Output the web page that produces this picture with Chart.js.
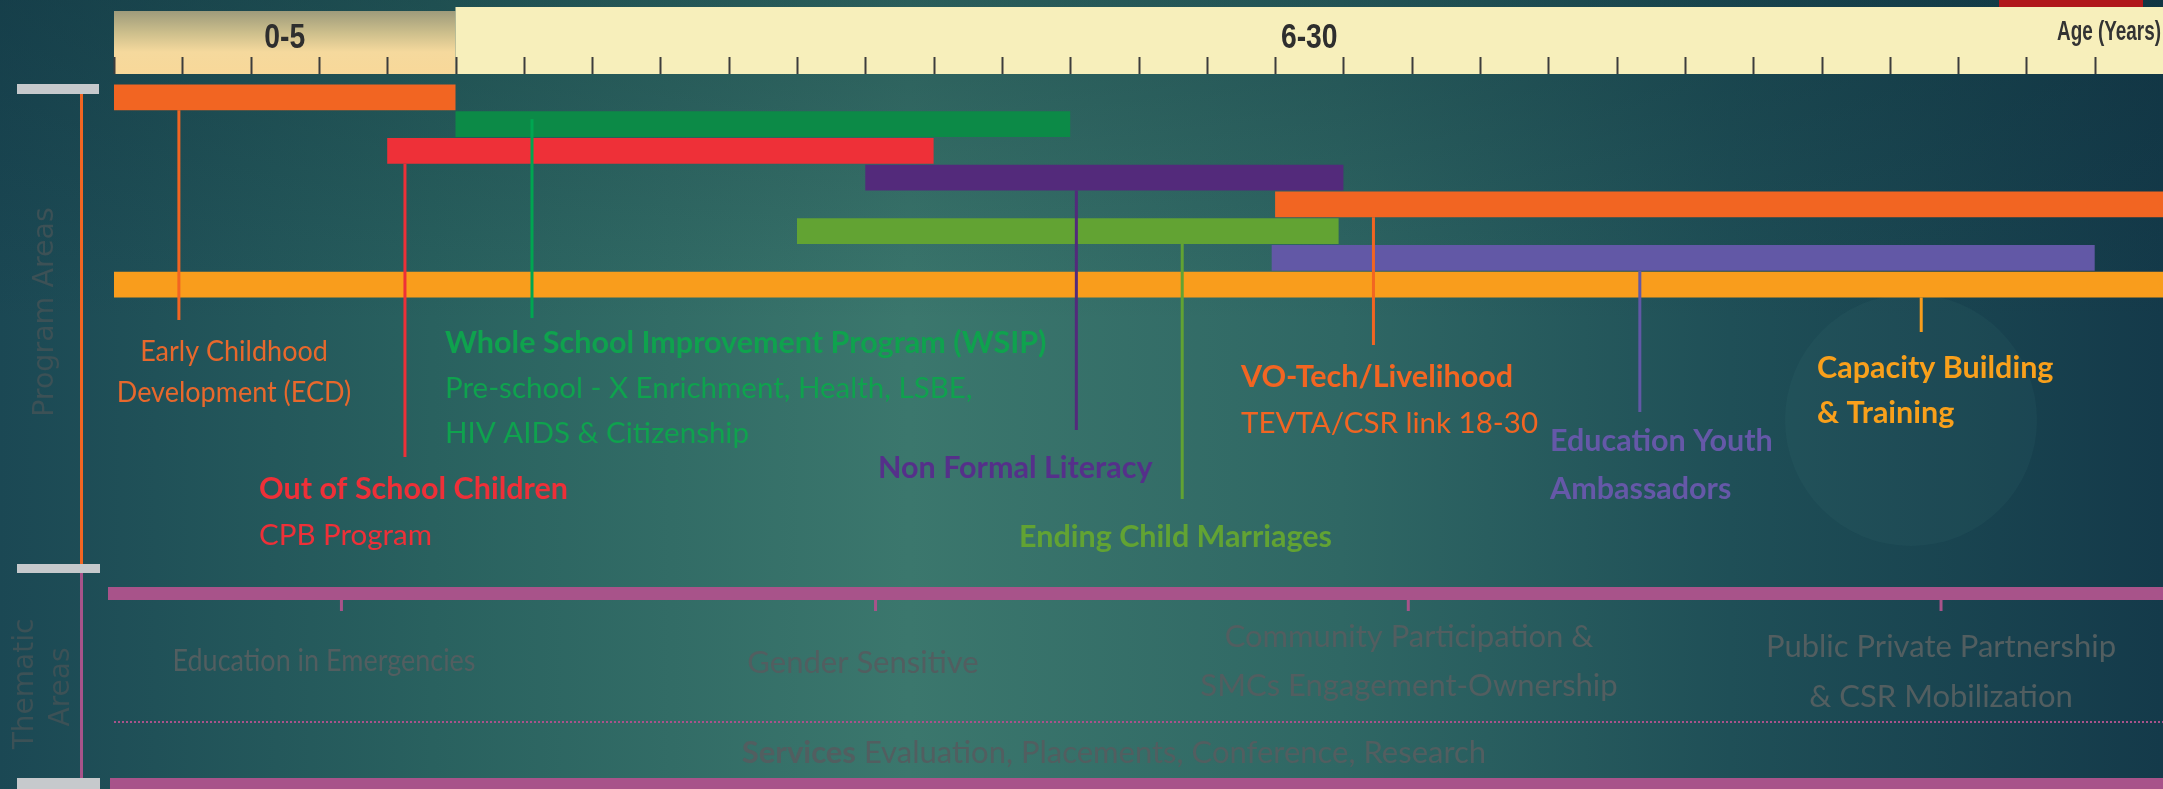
<!DOCTYPE html>
<html lang="en">
<head>
<meta charset="UTF-8">
<title>Program Areas by Age</title>
<script src="https://cdn.jsdelivr.net/npm/chart.js"></script>
<style>
  html, body { margin: 0; padding: 0; background: #1d4c57; }
  #wrap { width: 2163px; height: 789px; position: relative; }
</style>
</head>
<body>
<div id="wrap"><canvas id="ageChart"></canvas></div>
<script>
// program areas, one floating bar per row (ages in years)
const programs = [
  'Early Childhood Development (ECD)',
  'Whole School Improvement Program (WSIP)',
  'Out of School Children',
  'Non Formal Literacy',
  'VO-Tech/Livelihood',
  'Ending Child Marriages',
  'Education Youth Ambassadors',
  'Capacity Building & Training'
];
const startAge = [0, 5, 4, 11, 17, 10, 16.95, 0];
const endAge = [5, 14, 12, 18, 30, 17.93, 29, 30];
const leaderAge = [0.95, 6.12, 4.26, 14.09, 18.44, 15.64, 22.34, 26.46];

const programNotes = [
  ['Early Childhood', 'Development (ECD)'],
  ['Whole School Improvement Program (WSIP)', 'Pre-school - X Enrichment, Health, LSBE,', 'HIV AIDS & Citizenship'],
  ['Out of School Children', 'CPB Program'],
  ['Non Formal Literacy'],
  ['VO-Tech/Livelihood', 'TEVTA/CSR link 18-30'],
  ['Ending Child Marriages'],
  ['Education Youth', 'Ambassadors'],
  ['Capacity Building', '& Training']
];

// age ruler
const ageBands = ['0-5', '6-30'];
const bandEdges = [0, 5, 30];
const axisTitle = 'Age (Years)';

// thematic areas
const themes = [
  ['Education in Emergencies'],
  ['Gender Sensitive'],
  ['Community Participation &', 'SMCs Engagement-Ownership'],
  ['Public Private Partnership', '& CSR Mobilization']
];
const themeTickAges = [3.33, 11.15, 18.95, 26.75];
const servicesLine = ['Services', ' Evaluation, Placements, Conference, Research'];
const sideTitles = ['Program Areas', 'Thematic', 'Areas'];

// ---- styles ----
const barColors = ['#f26522', '#0c8a47', '#ee3038', '#532a7b', '#f26522', '#62a333', '#6258a6', '#f99d1c'];
const leaderColors = ['#f26522', '#00a651', '#ee3038', '#532a7b', '#f26522', '#62a333', '#6258a6', '#f99d1c'];
const noteColors = ['#e8682c', '#0fa24e', '#ee3038', '#55308a', '#f26522', '#62a333', '#6558a8', '#f9a01b'];
const noteBold = [[0, 0], [1, 0, 0], [1, 0], [1], [1, 0], [1], [1, 1], [1, 1]];
const noteLayout = [
  { x: 234, align: 'center', y: 351, step: 41, end: 320, squeeze: 0.915 },
  { x: 445, align: 'left', y: 343, step: 45, end: 318, fromMid: true },
  { x: 259, align: 'left', y: 489, step: 46, end: 457 },
  { x: 878, align: 'left', y: 468, step: 0, end: 430 },
  { x: 1241, align: 'left', y: 377, step: 46, end: 345 },
  { x: 1019, align: 'left', y: 537, step: 0, end: 499 },
  { x: 1550, align: 'left', y: 441, step: 48, end: 412 },
  { x: 1817, align: 'left', y: 368, step: 45, end: 332 }
];
const themeLayout = [
  { x: 324, y: 661, step: 0, squeeze: 0.87 },
  { x: 863, y: 663, step: 0 },
  { x: 1409, y: 637, step: 49 },
  { x: 1941, y: 647, step: 50 }
];
const NOTE_FONT = 'Lato, "Open Sans", sans-serif';
const RULER_FONT = '"Liberation Sans", Arial, sans-serif';
const SIDE_FONT = '"DejaVu Sans", Verdana, sans-serif';
const grey = '#525e60';
const pink = '#a8538a';
const capGrey = '#c6c9cc';

// condensed text: squeeze horizontally around the anchor
function narrowText(ctx, text, x, y, squeeze) {
  ctx.save();
  ctx.translate(x, y);
  ctx.scale(squeeze, 1);
  ctx.fillText(text, 0, 0);
  ctx.restore();
}

function drawLines(ctx, lines, x, y, step, align, fonts, color, squeeze) {
  ctx.textAlign = align;
  ctx.textBaseline = 'middle';
  ctx.fillStyle = color;
  lines.forEach((t, k) => {
    ctx.font = fonts[k];
    narrowText(ctx, t, x, y + k * step, squeeze || 1);
  });
}

function rotatedText(ctx, text, x, y) {
  ctx.save();
  ctx.translate(x, y);
  ctx.rotate(-Math.PI / 2);
  ctx.fillText(text, 0, 0);
  ctx.restore();
}

const backdrop = {
  id: 'backdrop',
  beforeDraw(chart) {
    const { ctx, width, height } = chart;
    ctx.save();
    const g = ctx.createLinearGradient(0, 0, width, 0);
    g.addColorStop(0, '#1b4854');
    g.addColorStop(0.2, '#29615f');
    g.addColorStop(0.42, '#3b776d');
    g.addColorStop(0.62, '#2f6764');
    g.addColorStop(0.8, '#1f4f57');
    g.addColorStop(1, '#143a4a');
    ctx.fillStyle = g;
    ctx.fillRect(0, 0, width, height);
    const v = ctx.createLinearGradient(0, 0, 0, 320);
    v.addColorStop(0, 'rgba(12,45,55,0.35)');
    v.addColorStop(1, 'rgba(12,45,55,0)');
    ctx.fillStyle = v;
    ctx.fillRect(0, 0, width, 320);
    // faint disc behind capacity building
    ctx.fillStyle = 'rgba(70,130,130,0.10)';
    ctx.beginPath();
    ctx.arc(1911, 420, 126, 0, Math.PI * 2);
    ctx.fill();
    // red marker at top right
    ctx.fillStyle = '#b0171a';
    ctx.fillRect(1999, 0, 144, 7);
    ctx.restore();
  }
};

const ruler = {
  id: 'ruler',
  beforeDatasetsDraw(chart) {
    const { ctx } = chart;
    const x = chart.scales.x;
    ctx.save();
    const x0 = x.getPixelForValue(bandEdges[0]);
    const x1 = x.getPixelForValue(bandEdges[1]);
    const x2 = x.getPixelForValue(bandEdges[2]);
    const g = ctx.createLinearGradient(0, 11, 0, 74);
    g.addColorStop(0, '#9e9b7b');
    g.addColorStop(0.35, '#cdbf8c');
    g.addColorStop(0.65, '#f5d99d');
    g.addColorStop(1, '#f8d899');
    ctx.fillStyle = g;
    ctx.fillRect(x0, 11, x1 - x0, 63);
    ctx.fillStyle = '#f7efbb';
    ctx.fillRect(x1, 7, x2 - x1, 67);
    ctx.strokeStyle = '#3c3c3c';
    ctx.lineWidth = 2;
    x.ticks.forEach(t => {
      if (t.value >= bandEdges[2]) return;
      const px = Math.round(x.getPixelForValue(t.value)) + 0.5;
      ctx.beginPath();
      ctx.moveTo(px, 57);
      ctx.lineTo(px, 74);
      ctx.stroke();
    });
    ctx.fillStyle = '#2e2e2e';
    ctx.textAlign = 'center';
    ctx.textBaseline = 'middle';
    ctx.font = 'bold 35px ' + RULER_FONT;
    ageBands.forEach((b, i) => {
      const mid = (bandEdges[i] + bandEdges[i + 1]) / 2;
      narrowText(ctx, b, x.getPixelForValue(mid), 38, 0.81);
    });
    ctx.textAlign = 'right';
    ctx.fillStyle = '#333';
    ctx.font = 'bold 27px ' + RULER_FONT;
    narrowText(ctx, axisTitle, 2161, 33, 0.7);
    ctx.restore();
  }
};

const notes = {
  id: 'notes',
  afterDatasetsDraw(chart) {
    const { ctx } = chart;
    const x = chart.scales.x;
    const bars = chart.getDatasetMeta(0).data;
    ctx.save();
    programNotes.forEach((lines, i) => {
      const L = noteLayout[i];
      const el = bars[i];
      const px = x.getPixelForValue(leaderAge[i]);
      const top = L.fromMid ? el.y - 5 : el.y + el.height / 2;
      ctx.fillStyle = leaderColors[i];
      ctx.fillRect(px - 1.5, top, 3, L.end - top);
      const fonts = noteBold[i].map(b => b ? 'bold 30.5px ' + NOTE_FONT : '29.5px ' + NOTE_FONT);
      drawLines(ctx, lines, L.x, L.y, L.step, L.align, fonts, noteColors[i], L.squeeze);
    });
    ctx.restore();
  }
};

const thematic = {
  id: 'thematic',
  afterDraw(chart) {
    const { ctx, width } = chart;
    const x = chart.scales.x;
    ctx.save();
    // side brackets
    ctx.fillStyle = capGrey;
    ctx.fillRect(17, 84, 82, 10);
    ctx.fillRect(17, 564, 83, 9);
    ctx.fillRect(17, 778, 83, 11);
    ctx.fillStyle = '#f26522';
    ctx.fillRect(80, 94, 3, 470);
    ctx.fillStyle = pink;
    ctx.fillRect(80, 573, 3, 205);
    // side titles
    ctx.fillStyle = '#3c5156';
    ctx.textAlign = 'center';
    ctx.textBaseline = 'middle';
    ctx.font = '28.5px ' + SIDE_FONT;
    rotatedText(ctx, sideTitles[0], 46, 312);
    ctx.font = '28px ' + SIDE_FONT;
    rotatedText(ctx, sideTitles[1], 26, 684);
    rotatedText(ctx, sideTitles[2], 62, 687);
    // thematic band
    ctx.fillStyle = pink;
    ctx.fillRect(108, 587, width - 108, 13);
    ctx.fillRect(110, 778, width - 110, 11);
    themeTickAges.forEach(a => {
      ctx.fillRect(x.getPixelForValue(a) - 1.5, 600, 3, 11);
    });
    ctx.strokeStyle = pink;
    ctx.lineWidth = 2;
    ctx.setLineDash([2, 2]);
    ctx.beginPath();
    ctx.moveTo(114, 722);
    ctx.lineTo(width, 722);
    ctx.stroke();
    ctx.setLineDash([]);
    themes.forEach((lines, i) => {
      const L = themeLayout[i];
      const f = '31px ' + NOTE_FONT;
      drawLines(ctx, lines, L.x, L.y, L.step, 'center', lines.map(() => f), grey, L.squeeze);
    });
    // services line: bold lead word then the rest
    ctx.font = 'bold 31px ' + NOTE_FONT;
    const w0 = ctx.measureText(servicesLine[0]).width;
    ctx.font = '31px ' + NOTE_FONT;
    const w1 = ctx.measureText(servicesLine[1]).width;
    const sx = 1114 - (w0 + w1) / 2;
    ctx.textAlign = 'left';
    ctx.fillStyle = grey;
    ctx.font = 'bold 31px ' + NOTE_FONT;
    ctx.fillText(servicesLine[0], sx, 753);
    ctx.font = '31px ' + NOTE_FONT;
    ctx.fillText(servicesLine[1], sx + w0, 753);
    ctx.restore();
  }
};

new Chart(document.getElementById('ageChart'), {
  type: 'bar',
  data: {
    labels: programs,
    datasets: [{
      label: 'Age range',
      data: startAge.map((s, i) => [s, endAge[i]]),
      backgroundColor: barColors,
      borderWidth: 0,
      barPercentage: 0.96,
      categoryPercentage: 1
    }]
  },
  options: {
    indexAxis: 'y',
    responsive: true,
    maintainAspectRatio: false,
    animation: false,
    layout: { padding: { left: 114, right: 0, top: 84, bottom: 491 } },
    plugins: {
      legend: { display: false },
      tooltip: { enabled: false }
    },
    scales: {
      x: { type: 'linear', min: 0, max: 30, display: false, ticks: { stepSize: 1 } },
      y: { display: false }
    }
  },
  plugins: [backdrop, ruler, notes, thematic]
});
</script>
</body>
</html>
